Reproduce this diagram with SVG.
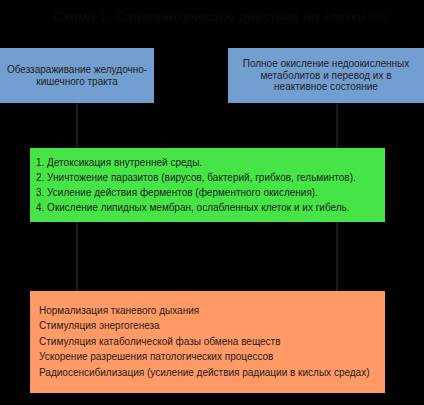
<svg xmlns="http://www.w3.org/2000/svg" width="424" height="405" viewBox="0 0 424 405">
<style>
text{font-family:"Liberation Sans","DejaVu Sans",Arial,sans-serif;fill:#1e1e1e}
.t{font-size:10px}
.l{font-size:10px}
.title{font-size:13px;fill:#0d0d0d}
.blue{fill:#729fcf}
.green{fill:#47e447}
.orange{fill:#ff9966}
.conn{stroke:#2e2e2e;stroke-width:1.2;fill:none}
</style>
<rect x="0" y="0" width="424" height="405" fill="#000"/>
<text class="title" x="53" y="21" textLength="335" lengthAdjust="spacingAndGlyphs">Схема 1. Саногенетическое действие на клетки О3</text>
<g id="connectors">
<line class="conn" x1="77" y1="103" x2="77" y2="148"/>
<line class="conn" x1="337" y1="103" x2="337" y2="148"/>
<line class="conn" x1="77" y1="222" x2="77" y2="291"/>
<line class="conn" x1="337" y1="222" x2="337" y2="291"/>
</g>
<g id="node-disinfection">
<rect class="blue" x="0" y="48" width="154" height="55"/>
<text class="t" x="77" y="73" text-anchor="middle">Обеззараживание желудочно-</text>
<text class="t" x="77" y="85" text-anchor="middle">кишечного тракта</text>
</g>
<g id="node-oxidation">
<rect class="blue" x="228" y="48" width="196" height="55"/>
<text class="t" x="326" y="67" text-anchor="middle">Полное окисление недоокисленных</text>
<text class="t" x="326" y="79" text-anchor="middle">метаболитов и перевод их в</text>
<text class="t" x="326" y="90" text-anchor="middle">неактивное состояние</text>
</g>
<g id="node-actions">
<rect class="green" x="30" y="148" width="355" height="74"/>
<text class="l" x="36" y="166">1. Детоксикация внутренней среды.</text>
<text class="l" x="36" y="181">2. Уничтожение паразитов (вирусов, бактерий, грибков, гельминтов).</text>
<text class="l" x="36" y="196">3. Усиление действия ферментов (ферментного окисления).</text>
<text class="l" x="36" y="211">4. Окисление липидных мембран, ослабленных клеток и их гибель.</text>
</g>
<g id="node-effects">
<rect class="orange" x="30" y="291" width="355" height="102"/>
<text class="l" x="39" y="314">Нормализация тканевого дыхания</text>
<text class="l" x="39" y="329">Стимуляция энергогенеза</text>
<text class="l" x="39" y="345">Стимуляция катаболической фазы обмена веществ</text>
<text class="l" x="39" y="360">Ускорение разрешения патологических процессов</text>
<text class="l" x="39" y="376">Радиосенсибилизация (усиление действия радиации в кислых средах)</text>
</g>
</svg>
